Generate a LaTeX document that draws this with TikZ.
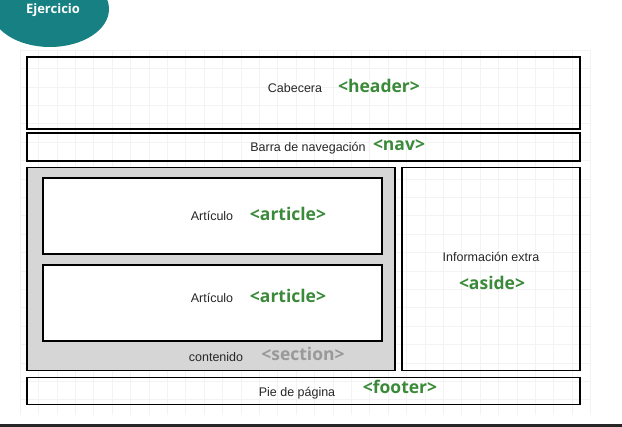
\documentclass[tikz,border=0pt]{standalone}
\usepackage{fontspec}
\usetikzlibrary{shapes.geometric}
\setmainfont{Liberation Sans}
\newfontfamily\tagfont{Open Sans}
\definecolor{teal1}{RGB}{22,128,130}
\definecolor{taggreen}{RGB}{58,138,58}
\definecolor{secgray}{RGB}{214,214,214}
\definecolor{gridc}{RGB}{243,243,243}
\tikzset{
  box/.style={draw=black, line width=1.5pt, inner sep=0pt, outer sep=0pt},
  lbl/.style={font=\fontsize{12.5}{14}\selectfont, text=black!85, inner sep=0pt},
  tagl/.style={font=\tagfont\bfseries\fontsize{17.5}{20}\selectfont, text=taggreen, inner sep=0pt},
}
\begin{document}
\begin{tikzpicture}[x=1pt,y=-1pt]
\useasboundingbox (0,0) rectangle (622,427);
\fill[white] (0,0) rectangle (622,427);
% faint grid
\foreach \i in {0,...,31} {\draw[gridc, line width=0.5pt] ({20+18.4*\i},50) -- ({20+18.4*\i},415);}
\foreach \j in {0,...,19} {\draw[gridc, line width=0.5pt] (20,{50+18.4*\j}) -- (590,{50+18.4*\j});}
% title ellipse
\node[fill=teal1, ellipse, minimum width=118, minimum height=76, inner sep=0pt] (title) at (50,9) {};
\node[text=white, font=\tagfont\bfseries\fontsize{13}{15}\selectfont, inner sep=0pt] (titletxt) at (53,10) {Ejercicio};
% boxes
\node[box, minimum width=553, minimum height=72] (header) at (303.5,93) {};
\node[box, minimum width=553, minimum height=28] (nav) at (303.5,147) {};
\node[box, fill=secgray, minimum width=368, minimum height=203] (section) at (211,269) {};
\node[box, fill=white, minimum width=339, minimum height=76] (art1) at (212.5,216) {};
\node[box, fill=white, minimum width=339, minimum height=76] (art2) at (212.5,303) {};
\node[box, minimum width=178, minimum height=203] (aside) at (491,269) {};
\node[box, minimum width=553, minimum height=27] (footer) at (303.5,391) {};
% labels
\node[lbl] (l1) at (295,88) {Cabecera};
\node[tagl] (t1) at (379,86) {<header>};
\node[lbl] (l2) at (308,148) {Barra de navegación};
\node[tagl] (t2) at (399,145) {<nav>};
\node[lbl] (l3) at (212,216) {Artículo};
\node[tagl] (t3) at (288,214) {<article>};
\node[lbl] (l4) at (212,298) {Artículo};
\node[tagl] (t4) at (288,296) {<article>};
\node[lbl] (l5) at (216,357) {contenido};
\node[tagl, text=black!40] (t5) at (303,354) {<section>};
\node[lbl] (l6) at (491,257) {Información extra};
\node[tagl] (t6) at (492,283) {<aside>};
\node[lbl] (l7) at (297,393) {Pie de página};
\node[tagl] (t7) at (400,387) {<footer>};
% bottom dark strip
\fill[black!85] (0,424) rectangle (622,427);
\end{tikzpicture}
\end{document}
